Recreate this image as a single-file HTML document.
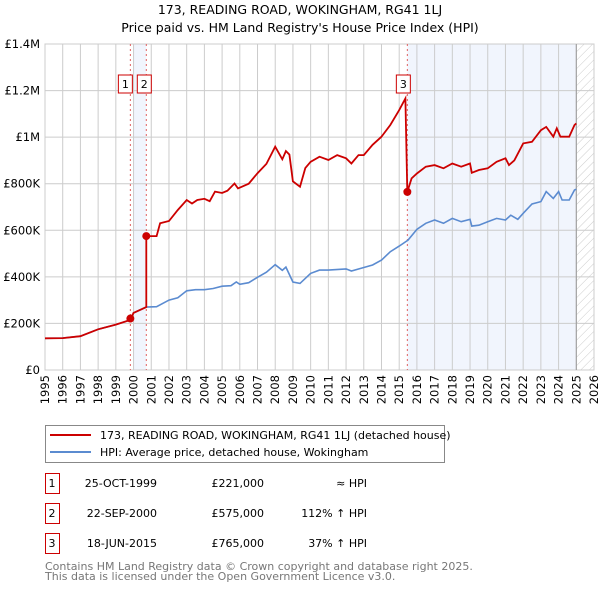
<!DOCTYPE html>
<html><head><meta charset="utf-8"><style>
body{margin:0;background:#fff;font-family:"Liberation Sans","DejaVu Sans",sans-serif;}
svg text{font-family:"DejaVu Sans","Liberation Sans",sans-serif;}
</style></head><body>
<svg id="c" width="600" height="590" xmlns="http://www.w3.org/2000/svg">
<text x="300" y="14" text-anchor="middle" font-size="12.5">173, READING ROAD, WOKINGHAM, RG41 1LJ</text>
<text x="300" y="32" text-anchor="middle" font-size="12.5">Price paid vs. HM Land Registry's House Price Index (HPI)</text>
<g id="plot"></g>
<g>
<rect x="45.5" y="425.5" width="399" height="37" fill="#fff" stroke="#888"/>
<line x1="50" y1="435" x2="91" y2="435" stroke="#cc0000" stroke-width="2"/>
<text x="100" y="439" font-size="11">173, READING ROAD, WOKINGHAM, RG41 1LJ (detached house)</text>
<line x1="50" y1="452" x2="91" y2="452" stroke="#5b8bd0" stroke-width="2"/>
<text x="100" y="456" font-size="11">HPI: Average price, detached house, Wokingham</text>
</g>
<g id="table" font-size="11"></g>
<text x="45" y="570" font-size="11" fill="#777">Contains HM Land Registry data © Crown copyright and database right 2025.</text>
<text x="45" y="580" font-size="11" fill="#777">This data is licensed under the Open Government Licence v3.0.</text>
</svg>
<script>
const hpiYears=[1995,1996,1997,1998,1999,1999.82,2000,2000.72,2001.3,2002,2002.5,2003,2003.5,2004,2004.5,2005,2005.5,2005.8,2006,2006.5,2007,2007.5,2008,2008.4,2008.6,2009,2009.4,2010,2010.5,2011,2012,2012.3,2013,2013.5,2014,2014.5,2015,2015.5,2016,2016.5,2017,2017.5,2018,2018.5,2019,2019.1,2019.5,2020,2020.5,2021,2021.3,2021.7,2022,2022.5,2023,2023.3,2023.7,2024,2024.2,2024.6,2024.9,2025];
const hpiValues=[136,137,145,175,195,215,245,270,272,300,310,340,345,345,350,360,362,378,368,375,398,420,452,428,442,378,372,415,429,429,434,425,440,451,472,508,532,558,604,630,644,630,651,637,647,618,622,637,651,644,665,647,673,713,723,766,737,766,730,730,773,776];
const propYears=[1995,1996,1997,1998,1999,1999.82,2000,2000.72,2000.721,2001.3,2001.5,2002,2002.5,2003,2003.3,2003.6,2004,2004.3,2004.6,2005,2005.3,2005.7,2005.9,2006.5,2007,2007.5,2008,2008.4,2008.6,2008.8,2009,2009.4,2009.7,2010,2010.5,2011,2011.5,2012,2012.3,2012.7,2013,2013.5,2014,2014.5,2015,2015.35,2015.46,2015.7,2016,2016.5,2017,2017.5,2018,2018.5,2019,2019.1,2019.5,2020,2020.5,2021,2021.2,2021.5,2022,2022.5,2023,2023.3,2023.7,2023.9,2024.1,2024.6,2024.9,2025];
const propValues=[136,137,145,175,195,215,245,270,575,575,630,640,687,730,715,730,735,725,766,760,770,801,780,800,845,885,959,905,940,925,810,787,867,894,916,902,923,909,887,923,923,967,1002,1052,1116,1166,765,823,844,873,880,866,887,873,887,847,859,866,894,909,880,900,973,980,1030,1044,1002,1038,1002,1002,1052,1059];
const saleLabels=["1","2","3"];
const saleYears=[1999.82,2000.72,2015.46];
const saleValues=[221,575,765];
const saleDates=["25-OCT-1999","22-SEP-2000","18-JUN-2015"];
const salePrices=["£221,000","£575,000","£765,000"];
const saleHpi=["≈ HPI","112% ↑ HPI","37% ↑ HPI"];
const yTicks=[0,200,400,600,800,1000,1200,1400];
const yTickLabels=["£0","£200K","£400K","£600K","£800K","£1M","£1.2M","£1.4M"];
const xTicks=[1995,1996,1997,1998,1999,2000,2001,2002,2003,2004,2005,2006,2007,2008,2009,2010,2011,2012,2013,2014,2015,2016,2017,2018,2019,2020,2021,2022,2023,2024,2025,2026];

const X0=45,X1=594,Y0=370,Y1=44;
const xs=y=>X0+(y-1995)/31*(X1-X0);
const ys=v=>Y0-v/1400*(Y0-Y1);
const NS="http://www.w3.org/2000/svg";
const plot=document.getElementById('plot');
function mk(t,a,p){const e=document.createElementNS(NS,t);for(const k in a)e.setAttribute(k,a[k]);(p||plot).appendChild(e);return e;}

// shading
let s=mk('rect',{x:xs(2000),y:Y1,width:xs(saleYears[1])-xs(2000),height:Y0-Y1,fill:'#eef2fc',opacity:0.8});


s=mk('rect',{x:xs(saleYears[2]),y:Y1,width:xs(2025)-xs(saleYears[2]),height:Y0-Y1,fill:'#eef2fc',opacity:0.8});


// hatch
const defs=mk('defs',{});
const pat=mk('pattern',{id:'h',width:6,height:6,patternUnits:'userSpaceOnUse',patternTransform:'rotate(45)'},defs);
mk('line',{x1:0,y1:0,x2:0,y2:6,stroke:'#ccc','stroke-width':1},pat);
s=mk('rect',{x:xs(2025),y:Y1,width:X1-xs(2025),height:Y0-Y1,fill:'url(#h)'});


// grid
xTicks.forEach((t,i)=>{
  const l=mk('line',{x1:xs(t),x2:xs(t),y1:Y1,y2:Y0,stroke:'#ccc','stroke-width':1});
  
  
  const tx=mk('text',{x:0,y:0,'font-size':11.5,'text-anchor':'end',transform:`translate(${xs(t)+4},${Y0+5}) rotate(-90)`});
  tx.textContent=t;
  
  
});
yTicks.forEach((t,i)=>{
  const l=mk('line',{x1:X0,x2:X1,y1:ys(t),y2:ys(t),stroke:'#ccc','stroke-width':1});
  
  
  const tx=mk('text',{x:40,y:ys(t)+4,'font-size':11.5,'text-anchor':'end'});
  tx.textContent=yTickLabels[i];
  
  
});
let b=mk('rect',{x:X0,y:Y1,width:X1-X0,height:Y0-Y1,fill:'none',stroke:'#ccc'});


let nl=mk('line',{x1:xs(2025),x2:xs(2025),y1:Y1,y2:Y0,stroke:'#999','stroke-width':1});


// sale dashed lines
saleYears.forEach((y,i)=>{
  const l=mk('line',{x1:xs(y),x2:xs(y),y1:Y1,y2:Y0,stroke:'#e06060','stroke-width':1,'stroke-dasharray':'2,3'});
  
  
});
// lines
const pts=(a,b)=>a.map((y,i)=>xs(y).toFixed(1)+','+ys(b[i]).toFixed(1)).join(' ');
let hl=mk('polyline',{points:pts(hpiYears,hpiValues),fill:'none',stroke:'#5b8bd0','stroke-width':1.6});


let pl=mk('polyline',{points:pts(propYears,propValues),fill:'none',stroke:'#cc0000','stroke-width':1.8});


// points & labels
const boxX=[xs(saleYears[0])-8,xs(saleYears[1])-4,xs(saleYears[2])-4];
saleYears.forEach((y,i)=>{
  const c=mk('circle',{cx:xs(y),cy:ys(saleValues[i]),r:4,fill:'#cc0000'});
  
  
  const bx=i===0?xs(y)-12:(i===1?xs(y)-9:xs(y)-11);
  const r=mk('rect',{x:bx,y:75,width:14,height:18,fill:'#fff',stroke:'#cc0000'});
  
  
  const t=mk('text',{x:bx+7,y:88,'font-size':11,'text-anchor':'middle'});
  t.textContent=saleLabels[i];
  
  
});
// table
const tb=document.getElementById('table');
saleLabels.forEach((l,i)=>{
  const cy=483+i*30;
  const r=mk('rect',{x:45.5,y:cy-9.5,width:14,height:20,fill:'#fff',stroke:'#cc0000'},tb);
  
  
  const vals=[[52,l,'middle'],[157,saleDates[i],'end'],[264,salePrices[i],'end'],[367,saleHpi[i],'end']];
  vals.forEach(v=>{
    const t=mk('text',{x:v[0],y:cy+4,'text-anchor':v[2]},tb);
    t.textContent=v[1];
    
    
  });
});
</script>
</body></html>
